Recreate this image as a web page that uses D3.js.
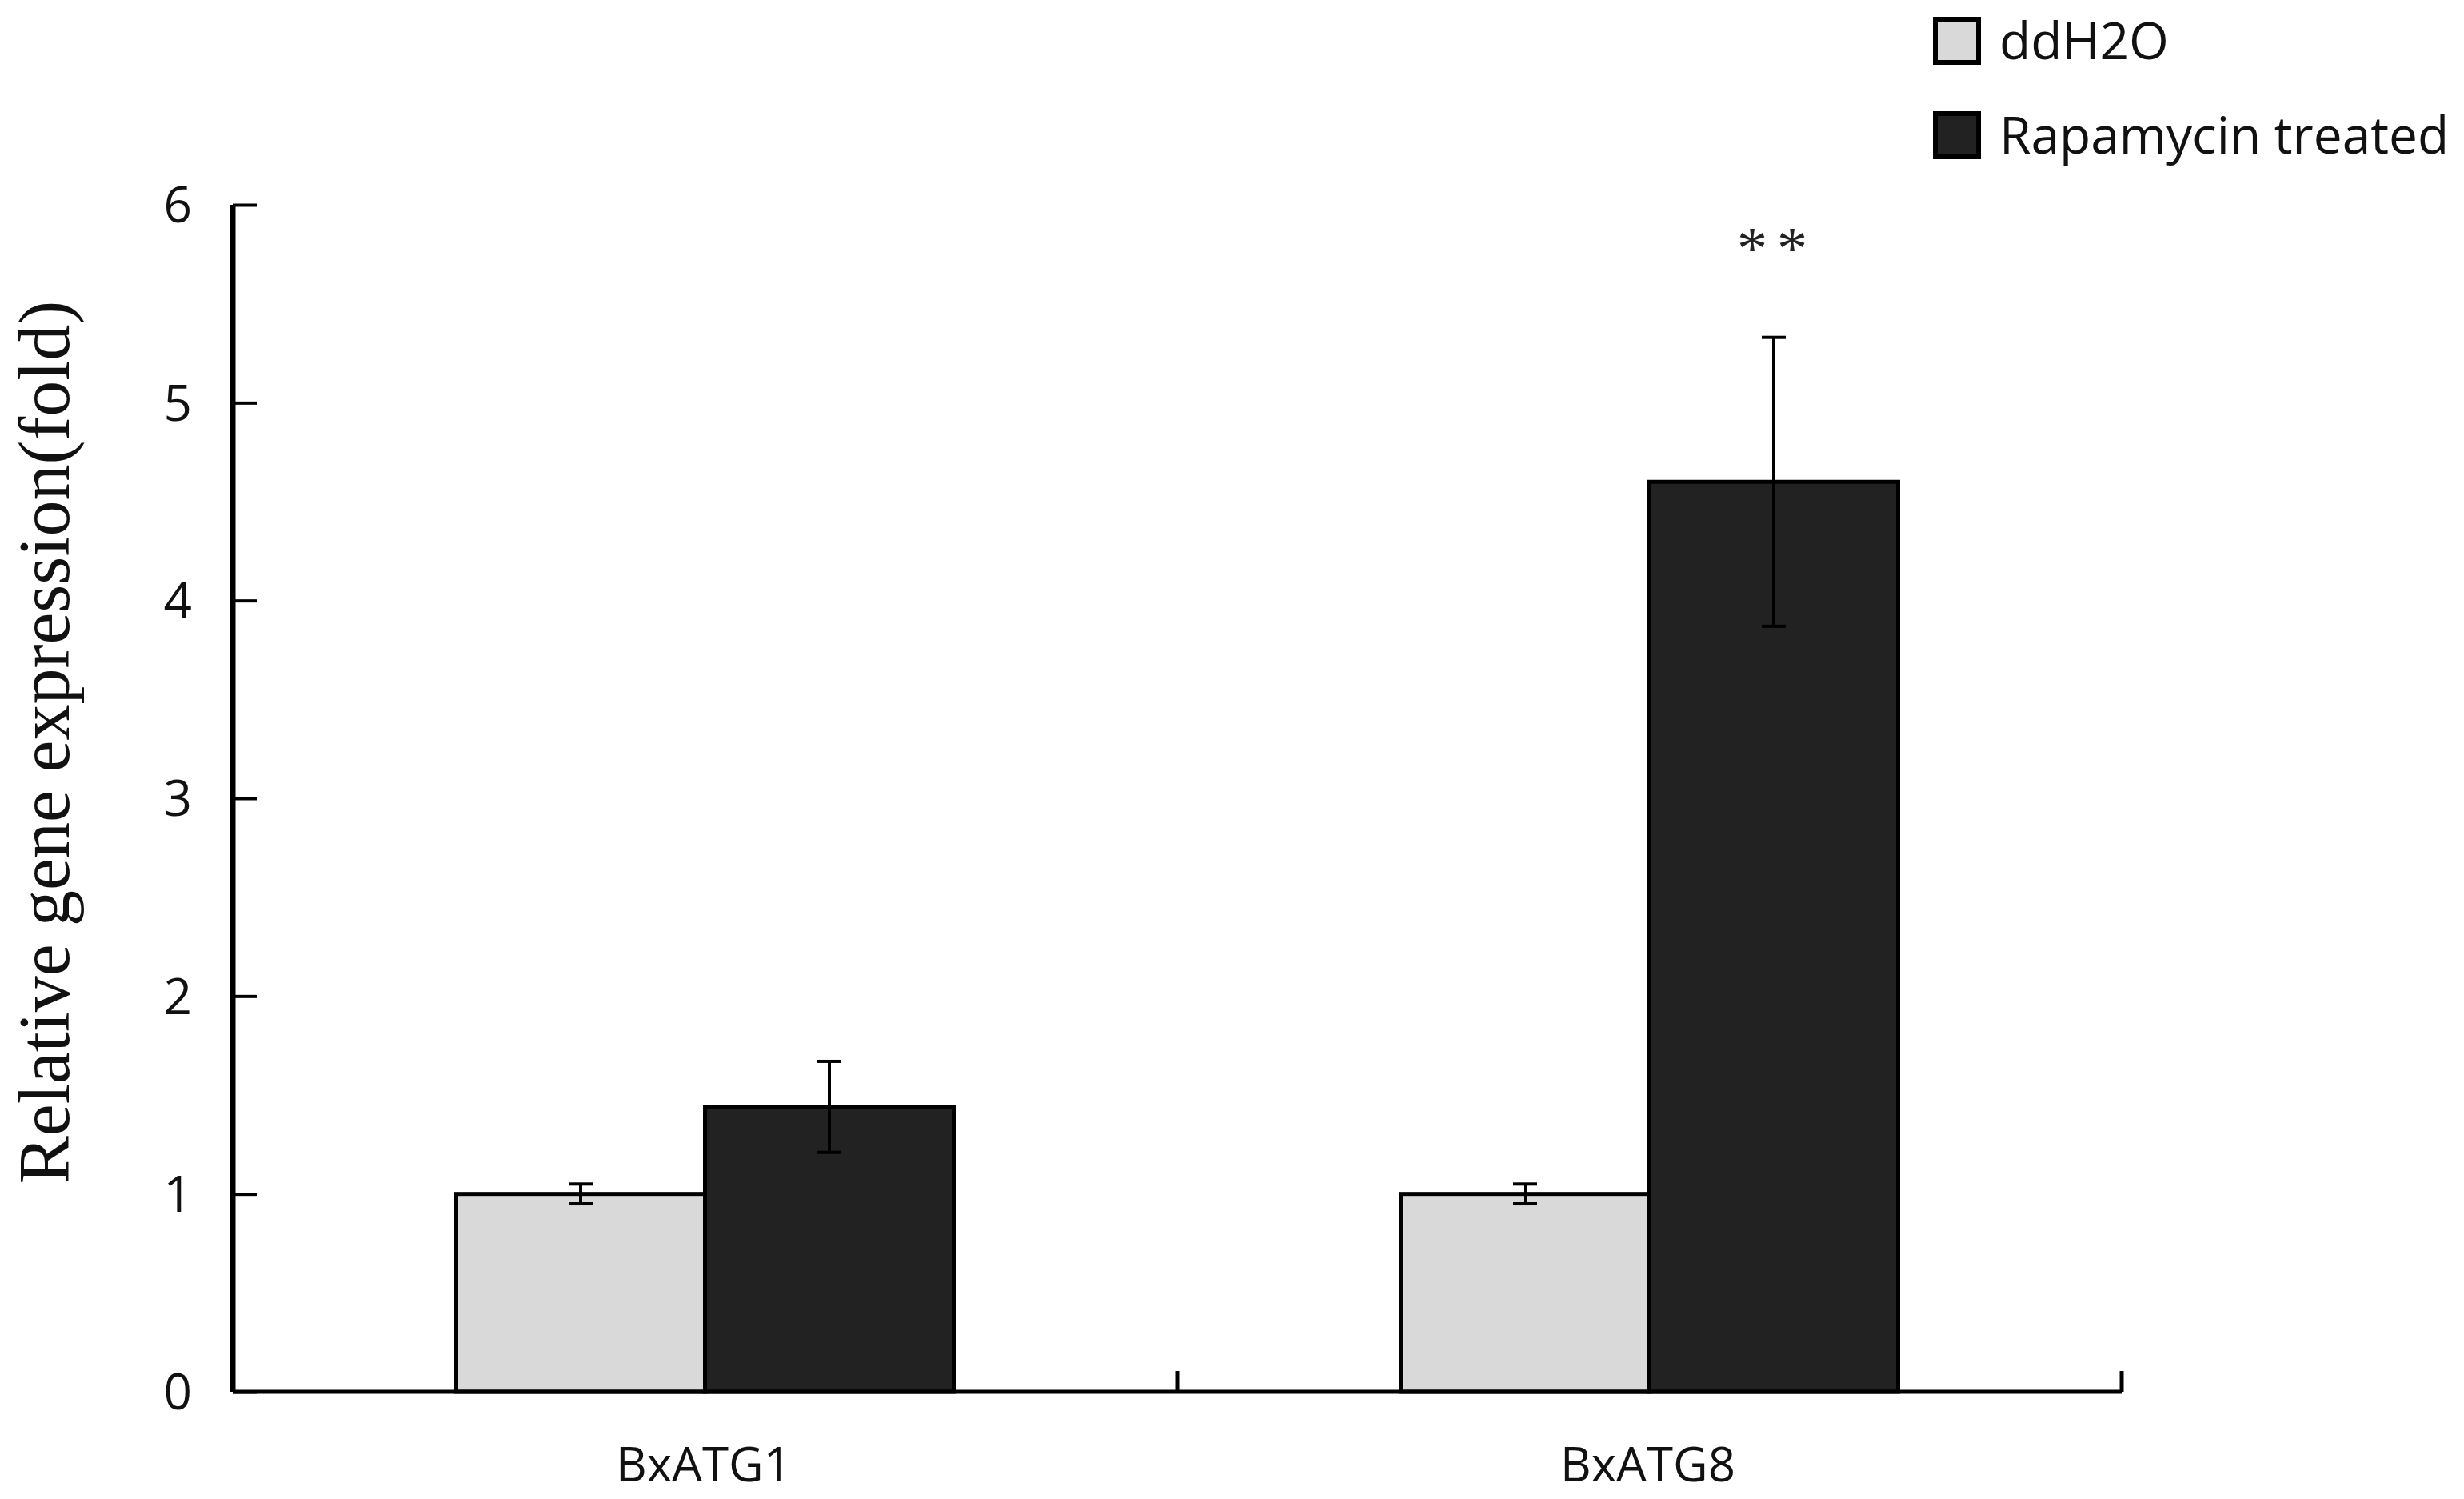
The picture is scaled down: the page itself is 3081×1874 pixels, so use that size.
<!DOCTYPE html>
<html lang="en">
<head>
<meta charset="UTF-8">
<script src="https://d3js.org/d3.v7.min.js"></script>
<style>
  body { margin: 0; background: #fff; }
</style>
</head>
<body>
<script>
// data
var genes = ["BxATG1", "BxATG8"];
var groups = ["ddH2O", "Rapamycin treated"];
var ddH2O = [1.0, 1.0];
var ddH2OErr = [0.05, 0.05];
var rapamycin = [1.44, 4.60];
var rapamycinErr = [0.23, 0.73];
var yTicks = [0, 1, 2, 3, 4, 5, 6];
var stars = ["", "**"];

var width = 3081, height = 1874;
var svg = d3.select("body").append("svg")
    .attr("width", width)
    .attr("height", height);

var x = d3.scaleBand().domain(genes).range([291, 2653]);
var inner = d3.scaleBand().domain(groups).range([0, 622]);
var y = d3.scaleLinear().domain([0, 6]).range([1740, 256]);

var fills = {"ddH2O": "#d9d9d9", "Rapamycin treated": "#222222"};

var rows = [];
genes.forEach(function(g, i) {
    rows.push({gene: g, group: "ddH2O", v: ddH2O[i], e: ddH2OErr[i]});
    rows.push({gene: g, group: "Rapamycin treated", v: rapamycin[i], e: rapamycinErr[i]});
});

function barX(d) {
    return x(d.gene) + x.bandwidth() / 2 - 311 + inner(d.group);
}

// bars
svg.selectAll(".bar").data(rows).enter().append("rect")
    .attr("class", "bar")
    .attr("x", barX)
    .attr("y", d => y(d.v))
    .attr("width", inner.bandwidth())
    .attr("height", d => y(0) - y(d.v))
    .attr("fill", d => fills[d.group])
    .attr("stroke", "#000")
    .attr("stroke-width", 5);

// error bars
var eb = svg.selectAll(".err").data(rows).enter().append("g").attr("class", "err")
    .attr("stroke", "#000").attr("stroke-width", 4);
eb.append("line")
    .attr("x1", d => barX(d) + inner.bandwidth() / 2)
    .attr("x2", d => barX(d) + inner.bandwidth() / 2)
    .attr("y1", d => y(d.v + d.e))
    .attr("y2", d => y(d.v - d.e));
eb.append("line")
    .attr("x1", d => barX(d) + inner.bandwidth() / 2 - 15)
    .attr("x2", d => barX(d) + inner.bandwidth() / 2 + 15)
    .attr("y1", d => y(d.v + d.e))
    .attr("y2", d => y(d.v + d.e));
eb.append("line")
    .attr("x1", d => barX(d) + inner.bandwidth() / 2 - 15)
    .attr("x2", d => barX(d) + inner.bandwidth() / 2 + 15)
    .attr("y1", d => y(d.v - d.e))
    .attr("y2", d => y(d.v - d.e));

// y axis, ticks pointing inward
var yAxis = svg.append("g")
    .attr("transform", "translate(291,0)")
    .call(d3.axisRight(y).tickValues(yTicks).tickSize(30).tickFormat(""));
yAxis.select(".domain").attr("stroke-width", 7).attr("d", "M0," + y(6) + "V" + y(0));
yAxis.selectAll(".tick line").attr("stroke-width", 4);

svg.selectAll(".ylab").data(yTicks).enter().append("text")
    .attr("class", "ylab")
    .attr("x", 240)
    .attr("y", d => y(d))
    .attr("dy", "0.36em")
    .attr("text-anchor", "end")
    .attr("font-family", "Open Sans")
    .attr("font-size", 62)
    .attr("fill", "#111")
    .text(d => d);

// x axis, ticks pointing up
var xAxis = svg.append("g")
    .attr("transform", "translate(0," + y(0) + ")");
xAxis.append("line")
    .attr("x1", 291).attr("x2", 2653)
    .attr("stroke", "#000").attr("stroke-width", 5);
xAxis.selectAll(".xt").data([x(genes[1]), 2653]).enter().append("line")
    .attr("x1", d => d).attr("x2", d => d)
    .attr("y1", 0).attr("y2", -26)
    .attr("stroke", "#000").attr("stroke-width", 5);

svg.selectAll(".xlab").data(genes).enter().append("text")
    .attr("class", "xlab")
    .attr("x", d => x(d) + x.bandwidth() / 2 - 2)
    .attr("y", 1852)
    .attr("text-anchor", "middle")
    .attr("font-family", "Open Sans")
    .attr("font-size", 60)
    .attr("fill", "#111")
    .text(d => d);

// significance marks
svg.selectAll(".star").data(genes).enter().append("text")
    .attr("x", (d, i) => x(d) + x.bandwidth() / 2 - 311 + inner(groups[1]) + inner.bandwidth() / 2 + 4)
    .attr("y", 336)
    .attr("text-anchor", "middle")
    .attr("font-family", "Liberation Serif")
    .attr("font-size", 76)
    .attr("letter-spacing", 12)
    .attr("fill", "#222")
    .text((d, i) => stars[i]);

// y title
svg.append("text")
    .attr("transform", "translate(86,928) rotate(-90)")
    .attr("text-anchor", "middle")
    .attr("font-family", "Liberation Serif")
    .attr("font-size", 90)
    .attr("fill", "#111")
    .text("Relative gene expression(fold)");

// legend
var leg = svg.selectAll(".leg").data(groups).enter().append("g")
    .attr("transform", (d, i) => "translate(2420," + (24 + i * 118) + ")");
leg.append("rect")
    .attr("width", 54).attr("height", 54)
    .attr("fill", d => fills[d])
    .attr("stroke", "#000").attr("stroke-width", 6);
leg.append("text")
    .attr("x", 80).attr("y", 50)
    .attr("font-family", "Open Sans")
    .attr("font-size", 64)
    .attr("fill", "#111")
    .text(d => d);
</script>
</body>
</html>
